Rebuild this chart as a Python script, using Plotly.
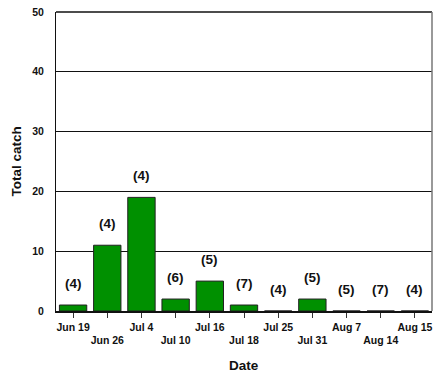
import plotly.graph_objects as go

# Sampling dates, total catch per date, and number of samples (n)
dates = ["Jun 19", "Jun 26", "Jul 4", "Jul 10", "Jul 16", "Jul 18",
         "Jul 25", "Jul 31", "Aug 7", "Aug 14", "Aug 15"]
total_catch = [1, 11, 19, 2, 5, 1, 0, 2, 0, 0, 0]
n_samples = [4, 4, 4, 6, 5, 7, 4, 5, 5, 7, 4]

x_pos = list(range(len(dates)))
# alternate tick labels on two rows so they do not collide
tick_text = [d if i % 2 == 0 else "<br>" + d for i, d in enumerate(dates)]

font_family = "Arial, Liberation Sans, sans-serif"

fig = go.Figure()
fig.add_trace(go.Bar(
    x=x_pos,
    y=total_catch,
    width=0.8,
    marker=dict(color="#009000", line=dict(color="#202020", width=1)),
    hoverinfo="skip",
))

for xi, yi, n in zip(x_pos, total_catch, n_samples):
    fig.add_annotation(
        x=xi, y=yi, xref="x", yref="y",
        text=f"({n})", showarrow=False,
        yanchor="bottom", yshift=12,
        font=dict(family=font_family, size=13.5, color="#111111", weight="bold"),
    )

# axis titles
fig.add_annotation(
    x=0.5, y=0, xref="paper", yref="paper", yshift=-54,
    text="Date", showarrow=False, yanchor="middle",
    font=dict(family=font_family, size=13.5, color="#111111", weight="bold"),
)
fig.add_annotation(
    x=0, y=0.5, xref="paper", yref="paper", xshift=-40,
    text="Total catch", showarrow=False, textangle=-90,
    xanchor="center", yanchor="middle",
    font=dict(family=font_family, size=13.5, color="#111111", weight="bold"),
)

fig.update_layout(
    width=435, height=375,
    margin=dict(l=56, r=3, t=12, b=64),
    paper_bgcolor="white", plot_bgcolor="white",
    showlegend=False,
    font=dict(family=font_family, color="#111111", weight="bold"),
    xaxis=dict(
        range=[-0.5, len(dates) - 0.5],
        tickmode="array", tickvals=x_pos, ticktext=tick_text,
        tickangle=0, automargin=False,
        ticks="outside", ticklen=5, tickcolor="#333333",
        tickfont=dict(size=10.5, weight="bold"),
        showgrid=False, zeroline=False,
        showline=True, linecolor="#111111", linewidth=2,
    ),
    yaxis=dict(
        range=[0, 50], tickvals=[0, 10, 20, 30, 40, 50],
        automargin=False,
        ticks="outside", ticklen=9, tickcolor="rgba(0,0,0,0)",
        tickfont=dict(size=10.5, weight="bold"),
        showgrid=True, gridcolor="#111111", gridwidth=1,
        zeroline=False,
        showline=True, linecolor="#111111", linewidth=1,
    ),
)

# frame: top and right borders
fig.add_shape(type="line", xref="paper", yref="paper", x0=0, x1=1, y0=1, y1=1,
              line=dict(color="#111111", width=1.5))
fig.add_shape(type="line", xref="paper", yref="paper", x0=1, x1=1, y0=0, y1=1,
              line=dict(color="#777777", width=1.5))

fig.write_html("out.html")
